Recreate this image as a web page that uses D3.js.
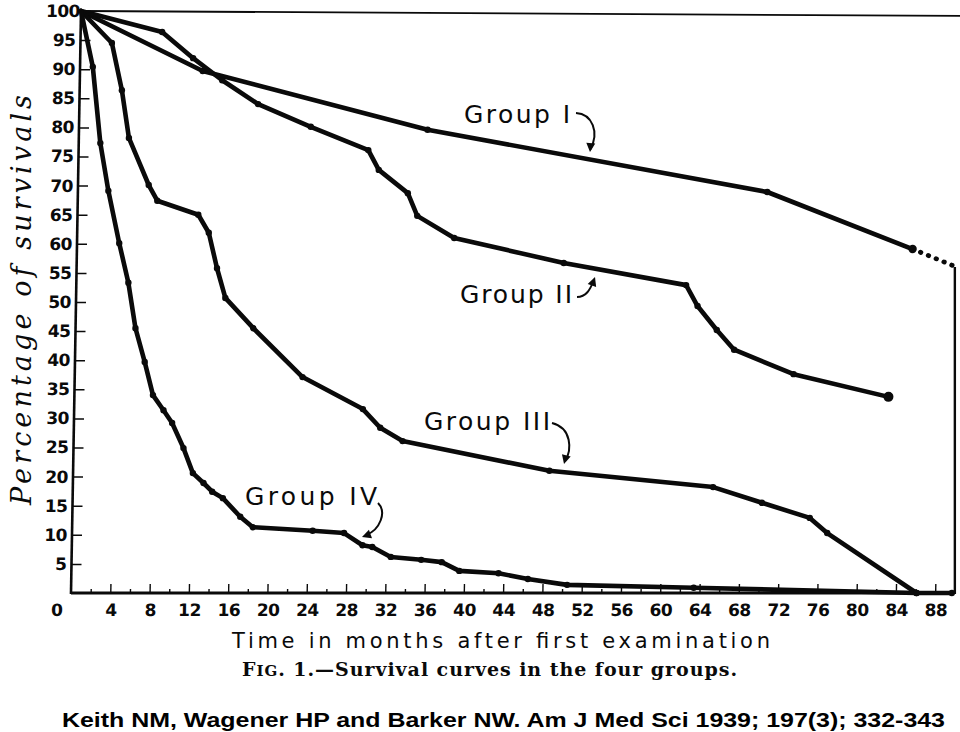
<!DOCTYPE html>
<html>
<head>
<meta charset="utf-8">
<script src="https://cdn.jsdelivr.net/npm/d3@7"></script>
<style>
  html, body { margin: 0; padding: 0; background: #fff; }
  svg { display: block; }
</style>
</head>
<body>
<svg id="chart" width="960" height="732"></svg>
<script>
// ---------------- data ----------------
const yTicks = [5, 10, 15, 20, 25, 30, 35, 40, 45, 50, 55, 60, 65, 70, 75, 80, 85, 90, 95, 100];
const xTickLabels = [0, 4, 8, 12, 16, 20, 24, 28, 32, 36, 40, 44, 48, 52, 56, 60, 64, 68, 72, 76, 80, 84, 88];
const xMinorTicks = [2, 6, 10, 14, 18, 22, 26, 30, 34, 38, 42, 46, 50, 54, 58, 62, 66, 70, 74, 78, 82, 86];

const groupIMonths = [0, 12.5, 35.5, 70.2, 85.1];
const groupIValues = [100, 89.7, 79.6, 68.9, 59.1];
const groupIDottedMonths = [85.1, 89.6];
const groupIDottedValues = [59.1, 56.0];

const groupIIMonths = [0, 8.3, 11.5, 14.5, 18.2, 23.6, 29.5, 30.6, 33.6, 34.6, 38.4, 49.6, 62.1, 63.3, 65.3, 67.1, 73.2, 82.9];
const groupIIValues = [100, 96.4, 91.9, 88.1, 84.0, 80.1, 76.1, 72.7, 68.7, 64.8, 61.0, 56.7, 52.9, 49.3, 45.2, 41.8, 37.6, 33.7];

const groupIIIMonths = [0, 3.2, 4.3, 5.1, 7.2, 8.1, 12.3, 13.4, 14.3, 15.2, 18.1, 23.2, 29.4, 31.2, 33.5, 48.5, 65.2, 70.2, 75.1, 76.9, 86.1, 89.7];
const groupIIIValues = [100, 94.5, 86.4, 78.2, 70.1, 67.4, 65.0, 61.9, 55.8, 50.7, 45.5, 37.1, 31.6, 28.4, 26.1, 21.0, 18.2, 15.5, 12.9, 10.3, 0, 0];

const groupIVMonths = [0, 1.3, 2.2, 3.1, 4.3, 5.3, 6.1, 7.1, 8.0, 9.1, 10.0, 11.2, 12.2, 13.3, 14.2, 15.3, 17.1, 18.4, 24.5, 27.7, 29.6, 30.6, 32.5, 35.6, 37.7, 39.5, 43.5, 46.5, 50.5, 63.4, 86.1];
const groupIVValues = [100, 90.4, 77.3, 69.1, 60.1, 53.3, 45.5, 39.7, 34.0, 31.4, 29.2, 24.9, 20.6, 18.9, 17.4, 16.3, 13.1, 11.3, 10.7, 10.3, 8.2, 7.9, 6.2, 5.7, 5.3, 3.8, 3.4, 2.4, 1.4, 0.9, 0];

const groupNames = ["Group I", "Group II", "Group III", "Group IV"];

const yTitle = "Percentage of survivals";
const xTitle = "Time in months after first examination";
const citation = "Keith NM, Wagener HP and Barker NW. Am J Med Sci 1939; 197(3); 332-343";

// ---------------- layout ----------------
const svg = d3.select("#chart");
const x0 = 71, y0 = 593, yTop = 11;
const x = d3.scaleLinear().domain([0, 90]).range([x0, x0 + 9.82 * 90]);
const y = d3.scaleLinear().domain([0, 100]).range([y0, yTop]);
const rightEdge = 89.7;

// the scanned figure leans slightly: y-axis bottom at x~71, top at x~81
const plot = svg.append("g")
  .attr("transform", `translate(0,${y0}) skewX(-0.985) translate(0,${-y0})`);

const ink = "#0a0a0a";

// axis frame
plot.append("line").attr("x1", x(0)).attr("x2", x(0)).attr("y1", y(0) + 1).attr("y2", y(100))
  .attr("stroke", ink).attr("stroke-width", 2.6);
plot.append("line").attr("x1", x(0)).attr("x2", x(rightEdge) + 1).attr("y1", y(0)).attr("y2", y(0))
  .attr("stroke", ink).attr("stroke-width", 2.8);
plot.append("line").attr("x1", x(0)).attr("x2", x(rightEdge) + 15).attr("y1", y(100)).attr("y2", y(100) + 5)
  .attr("stroke", ink).attr("stroke-width", 1.8);
svg.append("line").attr("x1", x(rightEdge) + 3).attr("x2", x(rightEdge) + 3).attr("y1", y(0) + 1).attr("y2", y(56))
  .attr("stroke", ink).attr("stroke-width", 2.4);

// y ticks (inward) and labels
const yAxis = d3.axisRight(y).tickValues(yTicks).tickSize(10).tickFormat("");
const yg = plot.append("g").attr("transform", `translate(${x(0)},0)`).call(yAxis);
yg.select(".domain").remove();
yg.selectAll(".tick line").attr("stroke", ink).attr("stroke-width", 1.5);

plot.selectAll("text.ylab").data(yTicks).join("text")
  .attr("class", "ylab")
  .attr("x", d => d === 100 ? x(0) - 1 : x(0) - 5)
  .attr("y", d => y(d) + 6)
  .attr("text-anchor", "end")
  .attr("font-family", "DejaVu Sans")
  .attr("font-size", 17)
  .attr("font-weight", "bold")
  .attr("letter-spacing", -0.5)
  .attr("fill", ink)
  .text(d => d);

// x ticks (upward) and labels
const xMajor = d3.axisTop(x).tickValues(xTickLabels.filter(d => d > 0)).tickSize(9).tickFormat("");
const xg = plot.append("g").attr("transform", `translate(0,${y0})`).call(xMajor);
xg.select(".domain").remove();
xg.selectAll(".tick line").attr("stroke", ink).attr("stroke-width", 1.4);
const xMinor = d3.axisTop(x).tickValues(xMinorTicks).tickSize(4).tickFormat("");
const xg2 = plot.append("g").attr("transform", `translate(0,${y0})`).call(xMinor);
xg2.select(".domain").remove();
xg2.selectAll(".tick line").attr("stroke", ink).attr("stroke-width", 1.4);

plot.selectAll("text.xlab").data(xTickLabels).join("text")
  .attr("class", "xlab")
  .attr("x", d => d === 0 ? x(0) - 14 : x(d) + 1)
  .attr("y", y0 + 23)
  .attr("text-anchor", "middle")
  .attr("font-family", "DejaVu Sans")
  .attr("font-size", 17)
  .attr("font-weight", "bold")
  .attr("letter-spacing", -0.5)
  .attr("fill", ink)
  .text(d => d);

// curves
const line = d3.line().x(d => x(d[0])).y(d => y(d[1]));
const series = [
  d3.zip(groupIMonths, groupIValues),
  d3.zip(groupIIMonths, groupIIValues),
  d3.zip(groupIIIMonths, groupIIIValues),
  d3.zip(groupIVMonths, groupIVValues)
];
series.forEach((pts, i) => {
  plot.append("path").datum(pts)
    .attr("d", line)
    .attr("fill", "none")
    .attr("stroke", ink)
    .attr("stroke-width", 4.6)
    .attr("stroke-linejoin", "round")
    .attr("stroke-linecap", "round");
  plot.selectAll(null).data(pts.slice(1)).join("circle")
    .attr("cx", d => x(d[0])).attr("cy", d => y(d[1]))
    .attr("r", (d, j) => (i === 1 && j === pts.length - 2) ? 5 : 3.2)
    .attr("fill", ink);
});
// dotted extension of Group I
plot.append("path").datum(d3.zip(groupIDottedMonths, groupIDottedValues))
  .attr("d", line)
  .attr("fill", "none")
  .attr("stroke", ink)
  .attr("stroke-width", 4.8)
  .attr("stroke-linecap", "round")
  .attr("stroke-dasharray", "0.5,8");
plot.append("circle").attr("cx", x(groupIMonths[4])).attr("cy", y(groupIValues[4])).attr("r", 4.2).attr("fill", ink);

// ---------------- annotations ----------------
const labelFont = "DejaVu Sans";
const labels = [
  { name: groupNames[0], x: 464, y: 123, w: 106, arrow: "M576,113 C592,114 600,132 590,150", head: [590, 152, 95] },
  { name: groupNames[1], x: 460, y: 303, w: 112, arrow: "M577,297 C586,297 590,290 594,280", head: [595, 277, -70] },
  { name: groupNames[2], x: 424, y: 430, w: 126, arrow: "M552,423 C572,428 572,450 565,461", head: [564, 464, 105] },
  { name: groupNames[3], x: 245, y: 505, w: 132, arrow: "M378,503 C387,512 380,530 366,535", head: [362, 537, 160] }
];
labels.forEach(l => {
  svg.append("text")
    .attr("x", l.x).attr("y", l.y)
    .attr("font-family", labelFont)
    .attr("font-size", 25)
    .attr("textLength", l.w)
    .attr("lengthAdjust", "spacing")
    .attr("fill", ink)
    .text(l.name);
  svg.append("path").attr("d", l.arrow)
    .attr("fill", "none").attr("stroke", ink).attr("stroke-width", 2);
  svg.append("path")
    .attr("d", "M0,0 L-9,-4.5 L-9,4.5 Z")
    .attr("fill", ink)
    .attr("transform", `translate(${l.head[0]},${l.head[1]}) rotate(${l.head[2]})`);
});

// axis titles
svg.append("text")
  .attr("transform", "translate(31,300) rotate(-90)")
  .attr("text-anchor", "middle")
  .attr("font-family", "DejaVu Serif")
  .attr("font-style", "italic")
  .attr("font-size", 27)
  .attr("textLength", 410)
  .attr("lengthAdjust", "spacing")
  .attr("fill", ink)
  .text(yTitle);

svg.append("text")
  .attr("x", 232).attr("y", 648)
  .attr("font-family", labelFont)
  .attr("font-size", 21)
  .attr("textLength", 538)
  .attr("lengthAdjust", "spacing")
  .attr("fill", ink)
  .text(xTitle);

const cap = svg.append("text")
  .attr("x", 242).attr("y", 676)
  .attr("font-family", "DejaVu Serif")
  .attr("font-size", 19)
  .attr("font-weight", "bold")
  .attr("textLength", 495)
  .attr("lengthAdjust", "spacing")
  .attr("fill", ink);
cap.append("tspan").text("F");
cap.append("tspan").attr("font-size", 15).text("IG");
cap.append("tspan").text(". 1.\u2014Survival curves in the four groups.");

svg.append("text")
  .attr("x", 62).attr("y", 727)
  .attr("font-family", "Liberation Sans")
  .attr("font-size", 21)
  .attr("font-weight", "bold")
  .attr("textLength", 883)
  .attr("lengthAdjust", "spacingAndGlyphs")
  .attr("fill", "#000")
  .text(citation);
</script>
</body>
</html>
